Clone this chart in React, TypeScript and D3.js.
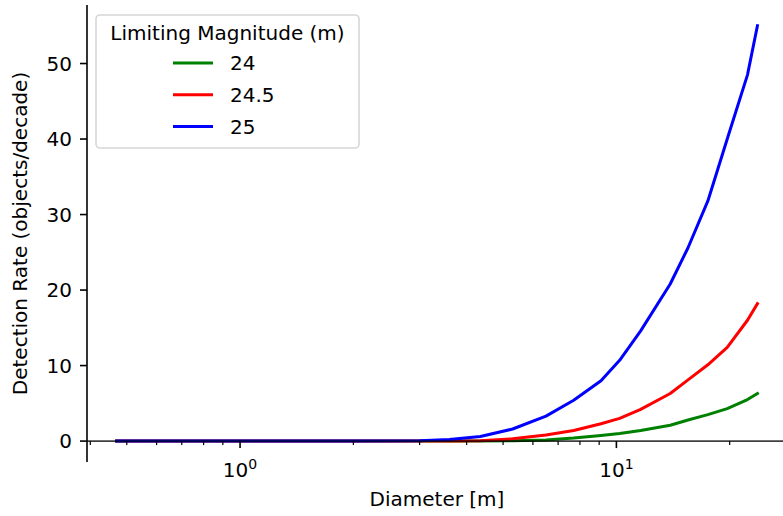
import { useRef, useEffect } from "react";
import * as d3 from "d3";

// diameters in metres
const diameters = [0.47, 1.0, 2.0, 3.0, 3.6, 4.35, 5.3, 6.5, 7.7, 9.1, 10.2, 11.6, 13.9, 15.5, 17.5, 19.7, 22.3, 23.7];
const rate24 = [0, 0, 0, 0, 0, 0, 0.05, 0.15, 0.4, 0.75, 1.0, 1.4, 2.1, 2.8, 3.5, 4.3, 5.5, 6.3];
const rate245 = [0, 0, 0, 0, 0, 0.05, 0.3, 0.8, 1.4, 2.3, 3.0, 4.2, 6.3, 8.1, 10.1, 12.4, 16.0, 18.2];
const rate25 = [0, 0, 0, 0.05, 0.2, 0.6, 1.6, 3.3, 5.4, 8.0, 10.7, 14.6, 20.8, 25.6, 31.8, 40.0, 48.5, 55.0];

const magnitudes = ["24", "24.5", "25"];
const colors = ["#008000", "#ff0000", "#0000ff"];
const yTicks = [0, 10, 20, 30, 40, 50];
const xMajorTicks = [1, 10];
const xTickExponents = ["0", "1"];

const FONT = "DejaVu Sans, sans-serif";

export default function App() {
  const svgRef = useRef<SVGSVGElement>(null);

  useEffect(() => {
    if (!svgRef.current) return;
    const svg = d3.select(svgRef.current);
    svg.selectAll("*").remove();

    const W = 783;
    const H = 516;
    svg.attr("width", W).attr("height", H).attr("viewBox", `0 0 ${W} ${H}`);

    const left = 87;
    const right = 787;
    const top = 5;
    const bottom = 462;

    const x = d3.scaleLog().domain([0.392, 28.4]).range([left, right]);
    const y = d3.scaleLinear().domain([-2.77, 57.75]).range([bottom, top]);

    const series = [rate24, rate245, rate25];

    // left spine
    svg
      .append("line")
      .attr("x1", left)
      .attr("x2", left)
      .attr("y1", top)
      .attr("y2", bottom)
      .attr("stroke", "#000")
      .attr("stroke-width", 1.6);

    // y ticks
    const yt = svg.append("g");
    yt.selectAll("line")
      .data(yTicks)
      .join("line")
      .attr("x1", left - 7)
      .attr("x2", left)
      .attr("y1", (d) => y(d))
      .attr("y2", (d) => y(d))
      .attr("stroke", "#000")
      .attr("stroke-width", 1.6);
    yt.selectAll("text")
      .data(yTicks)
      .join("text")
      .attr("x", left - 15)
      .attr("y", (d) => y(d))
      .attr("dy", "0.36em")
      .attr("text-anchor", "end")
      .attr("font-family", FONT)
      .attr("font-size", 20)
      .attr("fill", "#000")
      .text((d) => d);

    // lines
    const line = d3
      .line<number>()
      .x((_, i) => x(diameters[i]))
      .y((d) => y(d));

    const lines = svg.append("g");
    series.forEach((s, i) => {
      lines
        .append("path")
        .datum(s)
        .attr("d", line)
        .attr("fill", "none")
        .attr("stroke", colors[i])
        .attr("stroke-width", 3)
        .attr("stroke-linejoin", "round")
        .attr("stroke-linecap", "square");
    });

    // bottom spine at y = 0
    const y0 = y(0);
    svg
      .append("line")
      .attr("x1", left)
      .attr("x2", right)
      .attr("y1", y0)
      .attr("y2", y0)
      .attr("stroke", "#000")
      .attr("stroke-width", 1.6)
      .attr("opacity", 0.75);

    const [dmin, dmax] = x.domain();
    const minor: number[] = [];
    for (let e = -1; e <= 1; e++) {
      for (let k = 2; k <= 9; k++) {
        const v = k * Math.pow(10, e);
        if (v >= dmin && v <= dmax) minor.push(v);
      }
    }

    svg
      .append("g")
      .selectAll("line")
      .data(minor)
      .join("line")
      .attr("x1", (d) => x(d))
      .attr("x2", (d) => x(d))
      .attr("y1", y0)
      .attr("y2", y0 + 4)
      .attr("stroke", "#000")
      .attr("stroke-width", 1.2);

    svg
      .append("g")
      .selectAll("line")
      .data(xMajorTicks)
      .join("line")
      .attr("x1", (d) => x(d))
      .attr("x2", (d) => x(d))
      .attr("y1", y0)
      .attr("y2", y0 + 7)
      .attr("stroke", "#000")
      .attr("stroke-width", 1.6);

    const xl = svg
      .append("g")
      .selectAll("text")
      .data(xMajorTicks)
      .join("text")
      .attr("x", (d) => x(d))
      .attr("y", 477)
      .attr("text-anchor", "middle")
      .attr("font-family", FONT)
      .attr("font-size", 20)
      .attr("fill", "#000");
    xl.append("tspan").text("10");
    xl.append("tspan")
      .attr("dy", -8)
      .attr("font-size", 14)
      .text((_, i) => xTickExponents[i]);

    // axis labels
    svg
      .append("text")
      .attr("x", (left + right) / 2)
      .attr("y", 506)
      .attr("text-anchor", "middle")
      .attr("font-family", FONT)
      .attr("font-size", 20)
      .attr("fill", "#000")
      .text("Diameter [m]");

    svg
      .append("text")
      .attr("transform", `translate(27,${(top + bottom) / 2}) rotate(-90)`)
      .attr("text-anchor", "middle")
      .attr("font-family", FONT)
      .attr("font-size", 20)
      .attr("fill", "#000")
      .text("Detection Rate (objects/decade)");

    // legend
    const lg = svg.append("g");
    lg.append("rect")
      .attr("x", 96)
      .attr("y", 15)
      .attr("width", 263)
      .attr("height", 133)
      .attr("rx", 4)
      .attr("fill", "#fff")
      .attr("fill-opacity", 0.8)
      .attr("stroke", "#d6d6d6")
      .attr("stroke-width", 1.6);
    lg.append("text")
      .attr("x", 227.5)
      .attr("y", 33)
      .attr("dy", "0.36em")
      .attr("text-anchor", "middle")
      .attr("font-family", FONT)
      .attr("font-size", 20)
      .attr("fill", "#000")
      .text("Limiting Magnitude (m)");
    magnitudes.forEach((m, i) => {
      const cy = 63 + i * 31.8;
      lg.append("line")
        .attr("x1", 173)
        .attr("x2", 213)
        .attr("y1", cy)
        .attr("y2", cy)
        .attr("stroke", colors[i])
        .attr("stroke-width", 3);
      lg.append("text")
        .attr("x", 230)
        .attr("y", cy)
        .attr("dy", "0.36em")
        .attr("font-family", FONT)
        .attr("font-size", 20)
        .attr("fill", "#000")
        .text(m);
    });
  }, []);

  return <svg ref={svgRef} style={{ position: "absolute", left: 0, top: 0, display: "block" }} />;
}
